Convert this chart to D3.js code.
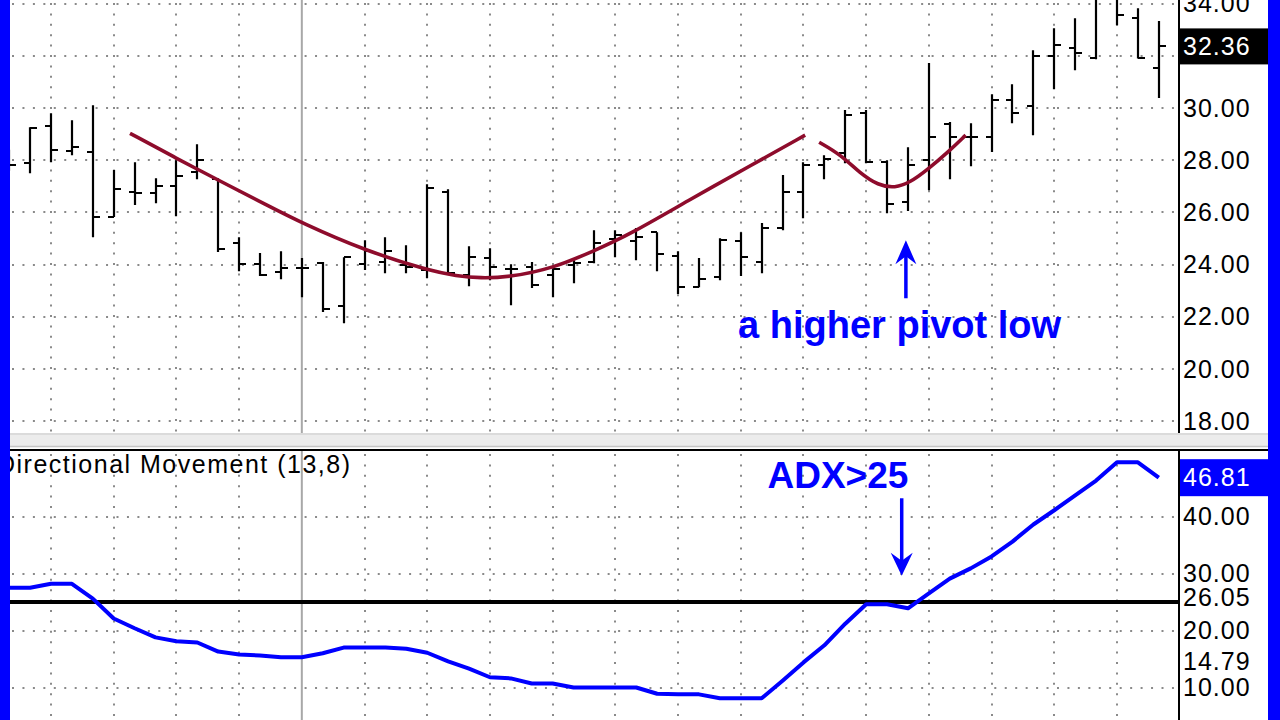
<!DOCTYPE html>
<html><head><meta charset="utf-8">
<script src="https://cdn.jsdelivr.net/npm/d3@7"></script>
<style>html,body{margin:0;padding:0;background:#fff;overflow:hidden}</style>
</head><body>
<svg id="c" width="1280" height="720"></svg>
<script>
// ---------- DATA ----------
const barIndex = d3.range(-2, 54);
const openPrices  = [28.20,27.89,29.30,28.36,28.31,25.82,26.77,26.74,27.00,27.54,27.27,24.82,24.01,23.71,23.86,24.05,22.41,24.01,24.10,24.00,23.79,26.77,23.60,24.25,23.82,23.90,23.60,23.98,24.10,24.97,24.90,25.24,24.32,23.13,23.52,24.90,24.10,25.40,26.77,27.81,28.27,29.80,27.92,26.39,28.00,29.40,28.88,28.88,30.30,30.07,31.98,32.30,31.90,34.30,33.44,31.52];
const highPrices  = [28.40,29.26,29.80,29.53,30.11,27.62,27.92,27.31,28.00,28.61,27.31,25.05,24.44,24.51,24.25,24.10,24.28,24.93,25.05,24.74,27.08,26.89,24.70,24.63,24.01,24.10,23.86,24.17,25.32,25.32,25.40,25.24,24.51,24.25,25.01,25.24,25.59,27.43,27.92,28.19,29.92,29.92,28.00,28.50,31.72,29.46,29.42,30.53,30.91,32.21,33.06,33.44,34.60,34.70,33.82,33.33];
const lowPrices   = [27.60,27.50,27.92,28.19,25.05,25.82,26.28,26.35,25.85,27.27,24.48,23.75,23.56,23.44,22.75,22.18,21.75,23.79,23.67,23.67,23.48,23.67,23.17,23.40,22.44,23.10,22.75,23.29,24.05,24.28,24.17,23.75,22.87,23.13,23.40,23.56,23.67,25.32,25.78,27.27,27.88,27.88,25.97,26.05,26.85,27.27,27.77,28.31,29.42,28.96,30.72,31.45,31.87,33.17,31.90,30.38];
const closePrices = [27.81,29.23,28.38,28.51,25.82,26.89,26.74,27.00,27.39,28.00,24.59,24.01,23.59,23.86,23.86,22.29,24.28,24.51,24.51,23.90,26.93,23.67,24.28,23.90,23.82,23.21,23.82,24.05,24.82,25.13,25.05,24.40,23.13,23.44,24.93,24.28,25.40,26.77,27.81,28.04,29.72,27.92,26.31,27.81,28.88,28.90,28.88,30.30,29.80,31.98,32.40,32.10,34.30,33.55,31.90,32.36];
const adxValues   = [27.5,27.5,28.2,28.2,25.6,22.1,20.4,18.8,18.1,17.9,16.3,15.8,15.6,15.3,15.3,16.0,17.0,17.0,17.0,16.8,16.1,14.6,13.3,11.8,11.6,10.7,10.7,10.0,10.0,10.0,10.0,8.9,8.8,8.8,8.1,8.1,8.1,11.2,14.4,17.4,21.2,24.6,24.6,23.9,26.5,29.1,30.9,33.0,35.6,38.6,41.1,43.7,46.3,49.5,49.5,46.81];

const priceTicks = [18,20,22,24,26,28,30,32,34];
const priceTickLabels = [18,20,22,24,26,28,30,34];   // 32.00 is covered by the last-price box
const adxTicks = [10,20,30,40];
const lastPrice = 32.36;
const adxLast = 46.81, diPlusLast = 26.05, diMinusLast = 14.79;
const adxThreshold = 25;
const gridBarStep = 3;
const separatorBar = 12;

// annotation curves [barIndex, price]
const saucerCurve = [[3.78,29.03],[5.98,28.08],[8.09,27.20],[10.33,26.28],[12.01,25.59],[14.98,24.55],[17.99,23.79],[19.43,23.56],[20.53,23.48],[21.96,23.52],[24.02,23.86],[25.93,24.51],[27.70,25.16],[30.43,26.43],[33.59,27.85],[36.08,28.96]];
const pivotCurve = [[36.75,28.69],[37.75,28.23],[38.71,27.5],[39.57,27.04],[40.38,26.93],[41.1,27.15],[41.91,27.62],[43.01,28.38],[43.76,28.96]];
const pivotText = "a higher pivot low";
const adxText = "ADX>25";
const indicatorTitle = "Directional Movement (13,8)";

// ---------- SCALES ----------
const svg = d3.select("#c");
const L = 10, R = 1179, RB = 1268;
const topY0 = 0, topY1 = 433, botY0 = 450, botY1 = 720;
const x = d3.scaleLinear().domain([0, 51]).range([51, 1117]);
const yP = d3.scaleLinear().domain([18, 34]).range([421.2, 3.6]);
const yA = d3.scaleLinear().domain([10, 40]).range([687.5, 516.5]);

const defs = svg.append("defs");
defs.append("clipPath").attr("id","ct").append("rect").attr("x",L).attr("y",topY0).attr("width",R-L).attr("height",topY1-topY0);
defs.append("clipPath").attr("id","cb").append("rect").attr("x",L).attr("y",botY0+1).attr("width",R-L).attr("height",botY1-botY0);

svg.append("rect").attr("width",1280).attr("height",720).attr("fill","#fff");

const gT = svg.append("g").attr("clip-path","url(#ct)");
const gB = svg.append("g").attr("clip-path","url(#cb)");

const dotCol = "#8a8a8a";
const gridIdx = d3.range(0, 52, gridBarStep);

// top grid
gT.selectAll("line.hg").data(priceTicks).join("line")
  .attr("x1",L+2).attr("x2",R).attr("y1",d=>Math.round(yP(d))).attr("y2",d=>Math.round(yP(d)))
  .attr("stroke",dotCol).attr("stroke-width",2).attr("stroke-dasharray","2,8.45");
gT.selectAll("line.vg").data(gridIdx.filter(d=>d!==separatorBar)).join("line")
  .attr("x1",d=>Math.round(x(d))).attr("x2",d=>Math.round(x(d))).attr("y1",3).attr("y2",topY1)
  .attr("stroke",dotCol).attr("stroke-width",2).attr("stroke-dasharray","2,8.4");
gT.append("line").attr("x1",x(separatorBar)).attr("x2",x(separatorBar)).attr("y1",0).attr("y2",topY1)
  .attr("stroke","#a8a8a8").attr("stroke-width",2);

// bottom grid
gB.selectAll("line.hg").data(adxTicks).join("line")
  .attr("x1",L+2).attr("x2",R).attr("y1",d=>Math.round(yA(d))).attr("y2",d=>Math.round(yA(d)))
  .attr("stroke",dotCol).attr("stroke-width",2).attr("stroke-dasharray","2,8.45");
gB.selectAll("line.vg").data(gridIdx.filter(d=>d!==separatorBar)).join("line")
  .attr("x1",d=>Math.round(x(d))).attr("x2",d=>Math.round(x(d))).attr("y1",botY0+4).attr("y2",botY1)
  .attr("stroke",dotCol).attr("stroke-width",2).attr("stroke-dasharray","2,8.4");
gB.append("line").attr("x1",x(separatorBar)).attr("x2",x(separatorBar)).attr("y1",botY0).attr("y2",botY1)
  .attr("stroke","#a8a8a8").attr("stroke-width",2);

// ---------- PRICE BARS ----------
const bars = barIndex.map((j,i)=>({j, o:openPrices[i], h:highPrices[i], l:lowPrices[i], c:closePrices[i]}));
gT.selectAll("path.bar").data(bars).join("path")
  .attr("d", d=>{
    const xx = Math.round(x(d.j));
    const yo = Math.round(yP(d.o)), yc = Math.round(yP(d.c));
    return `M${xx},${yP(d.h)}V${yP(d.l)}M${xx-6},${yo}H${xx}M${xx},${yc}H${xx+7}`;
  })
  .attr("stroke","#000").attr("stroke-width",2.2).attr("fill","none");

// annotation curves
const curveLine = d3.line().x(d=>x(d[0])).y(d=>yP(d[1])).curve(d3.curveBasis);
[saucerCurve, pivotCurve].forEach(c=>{
  gT.append("path").attr("d",curveLine(c)).attr("fill","none")
    .attr("stroke","#8e0c2c").attr("stroke-width",3.6).attr("stroke-linecap","butt");
});

// up arrow + text
const ax = x(40.9);
const tipUp = yP(24.93);
gT.append("line").attr("x1",ax).attr("x2",ax).attr("y1",yP(22.71)).attr("y2",tipUp+14)
  .attr("stroke","#0000ff").attr("stroke-width",3.5);
gT.append("path").attr("d",`M${ax},${tipUp}L${ax-10.5},${tipUp+24}L${ax},${tipUp+16}L${ax+10.5},${tipUp+24}Z`)
  .attr("fill","#0000ff");
gT.append("text").attr("x",x(40.6)).attr("y",yP(21.18)).attr("text-anchor","middle")
  .attr("font-family","Liberation Sans, Arial, sans-serif").attr("font-weight","bold").attr("font-size",38)
  .attr("fill","#0000ff").text(pivotText);

// ---------- ADX PANEL ----------
gB.append("line").attr("x1",L).attr("x2",R).attr("y1",yA(adxThreshold)).attr("y2",yA(adxThreshold))
  .attr("stroke","#000").attr("stroke-width",4);
const adxLine = d3.line().x(d=>x(d[0])).y(d=>yA(d[1]));
gB.append("path").attr("d",adxLine(barIndex.map((j,i)=>[j,adxValues[i]])))
  .attr("fill","none").attr("stroke","#0000ff").attr("stroke-width",4).attr("stroke-linejoin","round");

gB.append("text").attr("x",-3).attr("y",473)
  .attr("font-family","Liberation Sans, Arial, sans-serif").attr("font-size",25).attr("letter-spacing",1.5)
  .attr("fill","#000").text(indicatorTitle);

const dx = x(40.7);
const tipDn = yA(29.6);
gB.append("line").attr("x1",dx).attr("x2",dx).attr("y1",yA(43.2)).attr("y2",tipDn-14)
  .attr("stroke","#0000ff").attr("stroke-width",3.5);
gB.append("path").attr("d",`M${dx},${tipDn}L${dx-11},${tipDn-23}L${dx},${tipDn-15}L${dx+11},${tipDn-23}Z`)
  .attr("fill","#0000ff");
gB.append("text").attr("x",x(37.65)).attr("y",yA(45)).attr("text-anchor","middle")
  .attr("font-family","Liberation Sans, Arial, sans-serif").attr("font-weight","bold").attr("font-size",37)
  .attr("fill","#0000ff").text(adxText);

// ---------- SEPARATOR ----------
svg.append("rect").attr("x",L).attr("y",433).attr("width",RB-L).attr("height",14).attr("fill","#ececec");
svg.append("line").attr("x1",L).attr("x2",RB).attr("y1",434).attr("y2",434).attr("stroke","#d6d6d6").attr("stroke-width",1.5);
svg.append("line").attr("x1",L).attr("x2",RB).attr("y1",446.5).attr("y2",446.5).attr("stroke","#c4c4c4").attr("stroke-width",1.5);
svg.append("line").attr("x1",L).attr("x2",RB).attr("y1",450).attr("y2",450).attr("stroke","#000").attr("stroke-width",2);

// ---------- AXES ----------
svg.append("line").attr("x1",R).attr("x2",R).attr("y1",0).attr("y2",topY1).attr("stroke","#000").attr("stroke-width",2);
svg.append("line").attr("x1",R).attr("x2",R).attr("y1",botY0).attr("y2",botY1).attr("stroke","#000").attr("stroke-width",2);

const fmt = d3.format(".2f");
const axisFont = g => g.attr("font-family","Liberation Sans, Arial, sans-serif").attr("font-size",25)
  .call(s=>s.select(".domain").remove())
  .call(s=>s.selectAll("text").attr("fill","#000").attr("letter-spacing",1));

svg.append("g").attr("transform",`translate(${R},0)`)
  .call(d3.axisRight(yP).tickValues(priceTickLabels).tickFormat(fmt).tickSize(0).tickPadding(4)).call(axisFont);
svg.append("g").attr("transform",`translate(${R},0)`)
  .call(d3.axisRight(yA).tickValues(adxTicks).tickFormat(fmt).tickSize(0).tickPadding(4)).call(axisFont);

// value boxes
function valueBox(yc, val, bg, fg, h){
  const g = svg.append("g");
  g.append("rect").attr("x",R+1).attr("y",yc-h/2).attr("width",RB-R-1).attr("height",h).attr("fill",bg);
  g.append("text").attr("x",R+4).attr("y",yc).attr("dy","0.35em")
    .attr("font-family","Liberation Sans, Arial, sans-serif").attr("font-size",25).attr("letter-spacing",1)
    .attr("fill",fg).text(fmt(val));
}
valueBox(yP(lastPrice), lastPrice, "#000", "#fff", 36);
valueBox(yA(diPlusLast)+1, diPlusLast, "#fff", "#000", 28);
valueBox(yA(diMinusLast)+1, diMinusLast, "#fff", "#000", 26);
valueBox(yA(adxLast), adxLast, "#0000ff", "#fff", 37);

// ---------- BORDERS ----------
svg.append("rect").attr("x",0).attr("y",0).attr("width",L).attr("height",720).attr("fill","#0000ff");
svg.append("rect").attr("x",RB).attr("y",0).attr("width",1280-RB).attr("height",720).attr("fill","#0000ff");
</script>
</body></html>
